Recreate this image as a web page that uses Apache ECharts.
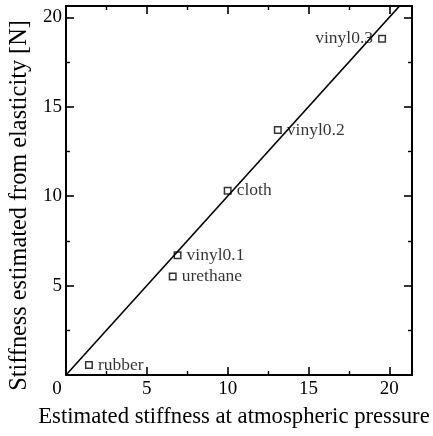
<!DOCTYPE html>
<html>
<head>
<meta charset="utf-8">
<script src="https://cdn.jsdelivr.net/npm/echarts@6/dist/echarts.min.js"></script>
<style>
  html, body { margin: 0; padding: 0; background: #fff; }
  #chart { width: 433px; height: 436px; }
</style>
</head>
<body>
<div id="chart"></div>
<script>
// samples
const names = ['rubber', 'urethane', 'vinyl0.1', 'cloth', 'vinyl0.2', 'vinyl0.3'];
const atmStiffness = [1.42, 6.6, 6.9, 10.0, 13.1, 19.55];
const elasticStiffness = [0.56, 5.5, 6.7, 10.3, 13.7, 18.8];
const labelSide = ['right', 'right', 'right', 'right', 'right', 'left'];
// y = x reference line
const refLine = [[0, 0], [21.4, 21.4]];

const xMax = 21.4;
const yMax = 20.63;
const font = 'Liberation Serif';

const chart = echarts.init(document.getElementById('chart'));

const points = names.map((n, i) => ({
    name: n,
    value: [atmStiffness[i], elasticStiffness[i]],
    label: { position: labelSide[i] }
}));

const baseAxis = {
    type: 'value',
    interval: 5,
    axisLine: { show: true, onZero: false, lineStyle: { color: '#000', width: 2 } },
    axisTick: { show: true, inside: true, length: 8, lineStyle: { color: '#000', width: 1.6 } },
    minorTick: { show: true, splitNumber: 2, length: 4, lineStyle: { color: '#000', width: 1.4 } },
    splitLine: { show: false },
    minorSplitLine: { show: false }
};

chart.setOption({
    animation: false,
    grid: { left: 66, right: 21, top: 6, bottom: 61, containLabel: false, outerBoundsMode: 'none' },
    xAxis: [
        Object.assign({}, baseAxis, {
            min: 0, max: xMax,
            name: 'Estimated stiffness at atmospheric pressure',
            nameLocation: 'middle',
            nameGap: 31,
            nameTextStyle: { fontFamily: font, fontSize: 22.7, color: '#000', padding: [0, 10, 0, 0] },
            axisLabel: {
                showMaxLabel: false,
                margin: 5,
                fontFamily: font, fontSize: 19, color: '#000',
                formatter: v => (v === 0 ? '{z|0}' : String(v)),
                rich: { z: { fontFamily: font, fontSize: 19, color: '#000', padding: [0, 18, 0, 0] } }
            }
        }),
        Object.assign({}, baseAxis, {
            min: 0, max: xMax, position: 'top',
            axisLabel: { show: false }
        })
    ],
    yAxis: [
        Object.assign({}, baseAxis, {
            min: 0, max: yMax,
            name: 'Stiffness estimated from elasticity [N]',
            nameLocation: 'middle',
            nameGap: 34,
            nameTextStyle: { fontFamily: font, fontSize: 24.3, color: '#000', padding: [0, 30, 0, 0] },
            axisLabel: {
                showMinLabel: false,
                showMaxLabel: false,
                margin: 4,
                fontFamily: font, fontSize: 19, color: '#000'
            }
        }),
        Object.assign({}, baseAxis, {
            min: 0, max: yMax, position: 'right',
            axisLabel: { show: false }
        })
    ],
    series: [
        {
            type: 'line',
            data: refLine,
            symbol: 'none',
            clip: true,
            lineStyle: { color: '#000', width: 1.6 }
        },
        {
            type: 'scatter',
            data: points,
            symbol: 'rect',
            symbolSize: 6.5,
            itemStyle: { color: '#fff', borderColor: '#000', borderWidth: 1.5 },
            label: {
                show: true,
                formatter: '{b}',
                distance: 5,
                fontFamily: font, fontSize: 17.5, color: '#000'
            }
        }
    ]
});
</script>
</body>
</html>
